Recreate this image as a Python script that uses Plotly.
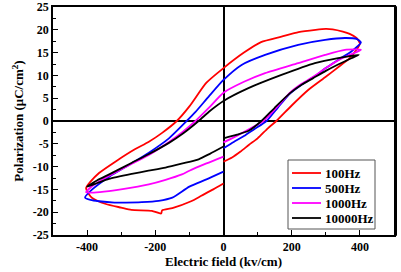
import plotly.graph_objects as go

# ---- data (Electric field kV/cm, Polarization uC/cm^2), loops start just right of E=0 on the lower branch
e_100 = [0, 25, 50, 75, 100, 130, 155, 200, 250, 300, 340, 370, 390, 400,
         390, 370, 350, 320, 300, 270, 220, 170, 110, 60, 0, -50, -100, -137, -180, -220, -260, -315, -365, -390, -403,
         -395, -385, -345, -300, -270, -210, -183, -180, -150, -95, -65, -30, 0]
p_100 = [-8.9, -8.0, -6.7, -5.2, -3.8, -1.6, 0.0, 3.4, 6.9, 9.7, 12.0, 13.8, 15.6, 17.0,
         18.2, 19.1, 19.6, 20.1, 20.2, 20.0, 19.5, 18.5, 17.3, 15.0, 11.6, 8.4, 3.2, 0.0, -2.6, -4.6, -6.2, -8.8, -11.4, -13.3, -14.7,
         -16.0, -16.9, -18.2, -19.0, -19.5, -19.7, -20.3, -19.6, -19.1, -17.6, -16.4, -15.0, -13.7]

e_500 = [0, 30, 60, 90, 126, 160, 195, 230, 268, 300, 336, 374, 403,
         390, 356, 298, 219, 122, 53, 0, -44, -82, -108, -160, -220, -270, -335, -385, -406,
         -390, -365, -320, -286, -240, -190, -150, -100, -50, 0]
p_500 = [-6.0, -4.6, -3.3, -1.8, 0.0, 3.0, 6.0, 8.0, 9.8, 11.6, 13.4, 15.2, 17.2,
         18.0, 18.2, 17.8, 16.7, 14.5, 12.3, 9.0, 5.3, 2.0, 0.0, -3.8, -7.0, -9.3, -12.2, -15.0, -16.8,
         -17.3, -17.6, -17.9, -17.9, -17.8, -17.5, -16.8, -14.4, -12.8, -11.1]

e_1000 = [0, 40, 80, 117, 160, 195, 230, 263, 300, 336, 370, 403,
          356, 298, 219, 122, 60, 0, -44, -82, -120, -160, -220, -270, -335, -380, -403,
          -380, -336, -269, -219, -170, -122, -100, -50, 0]
p_1000 = [-4.7, -3.2, -1.6, 0.0, 3.3, 6.2, 8.2, 9.7, 11.6, 13.3, 14.5, 15.6,
          15.6, 14.5, 12.7, 10.5, 8.6, 6.2, 2.8, 0.0, -2.4, -4.6, -7.5, -9.4, -12.0, -14.0, -15.6,
          -15.7, -15.4, -14.6, -13.9, -12.9, -11.7, -10.9, -9.3, -7.8]

e_10000 = [0, 40, 75, 111, 150, 195, 230, 263, 300, 336, 370, 397,
           336, 268, 170, 73, 0, -40, -73, -120, -160, -220, -270, -335, -370, -400,
           -370, -336, -269, -220, -170, -120, -73, -40, 0]
p_10000 = [-3.8, -3.0, -2.1, 0.0, 2.9, 6.1, 8.0, 9.4, 11.0, 12.4, 13.6, 14.5,
           13.8, 12.7, 10.1, 7.2, 4.4, 2.2, 0.0, -2.8, -4.8, -7.3, -9.2, -11.7, -13.0, -14.4,
           -13.6, -12.7, -11.6, -10.9, -10.2, -9.3, -8.4, -7.2, -5.6]

series_names = ["100Hz", "500Hz", "1000Hz", "10000Hz"]
series_colors = ["#FF0000", "#0000FF", "#FF00FF", "#000000"]
series_e = [e_100, e_500, e_1000, e_10000]
series_p = [p_100, p_500, p_1000, p_10000]

x_ticks = [-400, -200, 0, 200, 400]
x_ticklabels = ["-400", "-200", "0", "200", "400"]
y_ticks = [-25, -20, -15, -10, -5, 0, 5, 10, 15, 20, 25]
y_ticklabels = ["-25", "-20", "-15", "-10", "-5", "0", "5", "10", "15", "20", "25"]

# ---- layout geometry
W, H = 401, 272
ML, MR, MT, MB = 53, 7, 7, 37
PW, PH = W - ML - MR, H - MT - MB


def px(xp):
    return (xp - ML) / PW


def py(yp):
    return (H - MB - yp) / PH


FONT = "Liberation Serif"

fig = go.Figure()
for name, col, xs, ys in zip(series_names, series_colors, series_e, series_p):
    fig.add_trace(go.Scatter(x=xs, y=ys, mode="lines", name=name, showlegend=False, hoverinfo="skip",
                             line=dict(color=col, width=1.8, shape="spline", smoothing=0.6)))

axis_common = dict(showgrid=False, showline=True, linecolor="black", linewidth=1.5, mirror=True,
                   ticks="inside", ticklen=5, tickwidth=1, tickcolor="black", automargin=False,
                   zeroline=True, zerolinecolor="black", zerolinewidth=1.5,
                   tickfont=dict(family=FONT, size=12, color="black", weight="bold"))

fig.update_xaxes(range=[-500, 500], tickvals=x_ticks, ticktext=x_ticklabels,
                 minor=dict(dtick=100, tick0=0, ticks="inside", ticklen=3, tickcolor="black"),
                 title=dict(text="Electric field (kv/cm)", font=dict(family=FONT, size=13, color="black", weight="bold"), standoff=4),
                 **axis_common)
fig.update_yaxes(range=[-25, 25], tickvals=y_ticks, ticktext=y_ticklabels,
                 minor=dict(dtick=2.5, tick0=0, ticks="inside", ticklen=3, tickcolor="black"),
                 title=dict(text="Polarization (μC/cm<sup>2</sup>)", font=dict(family=FONT, size=13, color="black", weight="bold"), standoff=6),
                 **axis_common)

shapes = [
    # thick right frame edge
    dict(type="line", xref="paper", yref="paper", x0=1 + 1.5 / PW, x1=1 + 1.5 / PW, y0=-0.75 / PH, y1=1 + 0.75 / PH,
         line=dict(color="black", width=3)),
    # legend box
    dict(type="rect", xref="paper", yref="paper", x0=px(288), x1=px(375), y0=py(229), y1=py(160),
         line=dict(color="#555555", width=1), fillcolor="white", layer="above"),
]
annotations = []
for i, (name, col) in enumerate(zip(series_names, series_colors)):
    yy = 173 + 15 * i
    shapes.append(dict(type="line", xref="paper", yref="paper", x0=px(292), x1=px(321), y0=py(yy), y1=py(yy),
                       line=dict(color=col, width=1.8), layer="above"))
    annotations.append(dict(x=px(323), y=py(yy), xref="paper", yref="paper", text=name, showarrow=False,
                            xanchor="left", yanchor="middle",
                            font=dict(family=FONT, size=13, color="black", weight="bold")))

fig.update_layout(width=W, height=H, margin=dict(l=ML, r=MR, t=MT, b=MB),
                  paper_bgcolor="white", plot_bgcolor="white", shapes=shapes, annotations=annotations)

fig.write_html("out.html", config={"displayModeBar": False},
               post_script="document.body.style.margin='0';document.body.style.overflow='hidden';")
